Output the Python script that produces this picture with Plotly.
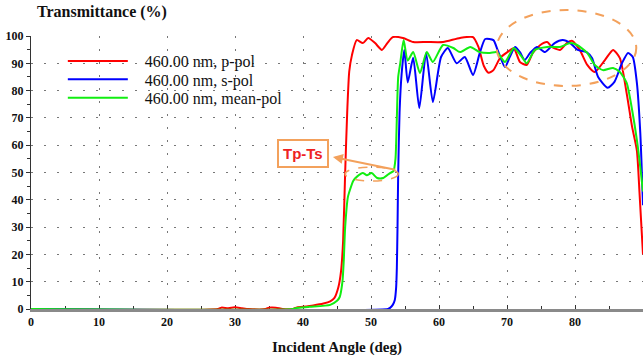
import plotly.graph_objects as go

# ---- data ----
p_angle = [0, 27.5, 28, 29, 30, 31, 32, 34.5, 35, 36, 37, 38.5, 39, 40, 41.5, 43, 44, 44.6, 45.2, 45.6,
           45.9, 46.2, 46.5, 46.8, 47.2, 47.9, 48.8, 49.6, 50.6, 51.6, 52.4, 53.2, 54.7, 56.2, 58.2, 60.6,
           63.1, 65, 65.8, 66.6, 67.3, 68, 69, 70, 71, 71.9, 72.9, 73.8, 74.9, 75.9, 76.6, 77.8, 78.8,
           79.6, 80.7, 81.8, 82.9, 84.4, 85.6, 86.6, 87.6, 88.4, 89.1, 89.5, 90]
p_pol = [0, 0, 0.5, 0.3, 0.6, 0.3, 0, 0, 0.5, 0.5, 0, 0, 0.5, 0.8, 1.3, 2, 2.8, 4, 8, 14,
         25, 50, 72, 87, 93, 98.5, 97.4, 99.3, 97.4, 94.9, 97.4, 99.6, 99.3, 97.8, 97.8, 97.8,
         99.3, 99.6, 96, 89, 86.5, 87.5, 92, 94, 95.5, 90.5, 89.4, 93.8, 96.7, 97.8, 96, 94.9, 97.4,
         98.2, 94.9, 89.4, 86.8, 91.2, 94.9, 91.9, 79, 66.7, 58, 42, 20]

s_angle = [0, 52.5, 52.8, 53.2, 53.5, 53.7, 53.8, 53.9, 54.0, 54.2, 54.5, 54.9, 55.4, 56.2, 57.1, 58.1,
           59.1, 60.3, 61.3, 62.6, 63.8, 65, 66, 66.8, 68, 68.6, 69.7, 70.4, 71.2, 71.9, 72.6, 73.4,
           74.4, 75.6, 77, 78.2, 79.3, 80.4, 81.7, 82.5, 83.4, 84.8, 85.8, 86.9, 87.8, 88.5, 89.1,
           89.6, 90]
s_pol = [0, 0, 0.4, 1.5, 3.3, 8, 15, 30, 50, 72, 86, 95, 83, 92, 73.6, 93.8,
         75.8, 92.3, 95.6, 90, 92.3, 85.7, 93.8, 98.9, 98.5, 95, 88.6, 92.3, 96, 94.1, 91.2, 93.8,
         96, 94.1, 97.4, 98.5, 97.4, 94.9, 94.1, 91.9, 85, 81, 83.2, 90, 93.8, 92.3, 82.8,
         64.5, 38]

m_angle = [0, 38.5, 39, 41, 44, 45, 45.4, 45.8, 46.0, 46.2, 46.6, 46.9, 47.4, 47.9, 48.8, 49.4, 50.1,
           50.9, 51.8, 52.8, 53.3, 53.6, 53.8, 54.0, 54.3, 54.8, 55.4, 56.2, 57.2, 58.2, 59.1, 60.6,
           62.1, 63.1, 64.6, 66, 67.5, 68.5, 69.7, 71, 72.2, 72.9, 74.1, 75.9, 77.8, 79.3, 80.3,
           81.8, 82.9, 84.1, 85.6, 86.6, 87.6, 88.4, 89.1, 89.6, 90]
mean_pol = [0, 0, 0.4, 0.8, 1.5, 3, 4.4, 10, 18, 30, 41, 43.6, 47, 48.4, 49.8, 49, 49.8,
            48, 48, 49.8, 50.5, 55, 70, 85, 90, 98.5, 91, 94.1, 86.4, 94.1, 90.5, 96.7,
            95.6, 94.1, 96, 94.1, 93.8, 94.1, 90.5, 95.6, 92.3, 90, 94.9, 96, 96, 97.4, 96.7,
            93.8, 89.4, 87.5, 88.3, 86.8, 82.8, 72.9, 61.9, 52, 43]

series_names = ["460.00 nm, p-pol", "460.00 nm, s-pol", "460.00 nm, mean-pol"]
x_ticks = [0, 10, 20, 30, 40, 50, 60, 70, 80, 90]
y_ticks = [0, 10, 20, 30, 40, 50, 60, 70, 80, 90, 100]

SERIF = "Liberation Serif, Times New Roman, serif"
ORANGE = "#f3a15c"

fig = go.Figure()
legend_ids = ["legend", "legend2", "legend3"]
legend_rows = [0.908, 0.841, 0.773]
for xs, ys, name, col, lg in [(p_angle, p_pol, series_names[0], "#ff0000", legend_ids[0]),
                              (s_angle, s_pol, series_names[1], "#0000ff", legend_ids[1]),
                              (m_angle, mean_pol, series_names[2], "#11ee11", legend_ids[2])]:
    fig.add_trace(go.Scatter(x=xs, y=ys, name="&nbsp;&nbsp;&nbsp;" + name, mode="lines", legend=lg,
                             line=dict(color=col, width=2, shape="spline", smoothing=0.6)))

legend_style = dict(x=0.052, xanchor="left", yanchor="middle",
                    bgcolor="rgba(0,0,0,0)", borderwidth=0,
                    font=dict(family=SERIF, size=16, color="#111"), itemwidth=60)

fig.update_layout(
    width=644, height=358,
    margin=dict(l=31, r=1, t=36, b=49, autoexpand=False),
    plot_bgcolor="white", paper_bgcolor="white",
    showlegend=True,
    legend=dict(y=legend_rows[0], **legend_style),
    legend2=dict(y=legend_rows[1], **legend_style),
    legend3=dict(y=legend_rows[2], **legend_style),
    xaxis=dict(range=[0, 90], tickvals=x_ticks, ticktext=[f"<b>{v}</b>" for v in x_ticks],
               automargin=False,
               showgrid=True, gridcolor="#777", griddash="2px,11px", gridwidth=1,
               showline=True, linecolor="#8a8a8a", linewidth=3, layer="below traces",
               ticks="inside", ticklen=4, tickcolor="#333",
               minor=dict(dtick=5, ticks="inside", ticklen=3, tickcolor="#333", showgrid=False),
               tickfont=dict(family=SERIF, size=12, color="#111"),
               title=dict(text="<b>Incident Angle (deg)</b>", font=dict(family=SERIF, size=15, color="#111"),
                          standoff=14),
               zeroline=False),
    yaxis=dict(range=[0, 100], tickvals=y_ticks, ticktext=[f"<b>{v}</b>" for v in y_ticks],
               automargin=False,
               showgrid=True, gridcolor="#777", griddash="2px,11px", gridwidth=1,
               showline=True, linecolor="#333", linewidth=1,
               ticks="outside", ticklen=4, tickcolor="#333",
               minor=dict(dtick=5, ticks="outside", ticklen=3, tickcolor="#333", showgrid=False),
               tickfont=dict(family=SERIF, size=12, color="#111"),
               zeroline=False),
)

# chart title at top-left
fig.add_annotation(xref="paper", yref="paper", x=0.0065, y=1.0, yshift=24, xanchor="left", yanchor="middle",
                   text="<b>Transmittance (%)</b>", showarrow=False,
                   font=dict(family=SERIF, size=16, color="#111"))

# dashed ellipses
fig.add_shape(type="circle", xref="x domain", yref="y domain",
              x0=0.761, x1=0.989, y0=0.817, y1=1.095,
              line=dict(color=ORANGE, width=2, dash="dash"))
fig.add_shape(type="circle", xref="x", yref="y", x0=46.2, x1=54.0, y0=46.9, y1=52.0,
              line=dict(color=ORANGE, width=1.5, dash="dash"))

# Tp-Ts label and arrow
fig.add_annotation(x=40, y=56.8, xref="x", yref="y", text="<b>Tp-Ts</b>", showarrow=False,
                   font=dict(family="Liberation Sans, Arial, sans-serif", size=15, color="#ee2222"),
                   bgcolor="white", bordercolor=ORANGE, borderwidth=2, borderpad=4)
fig.add_annotation(x=44.4, y=55.7, ax=53.8, ay=50.9, xref="x", yref="y", axref="x", ayref="y",
                   text="", showarrow=True, arrowhead=2, arrowsize=1, arrowwidth=2, arrowcolor=ORANGE)

fig.write_html("out.html", config={"displayModeBar": False},
               post_script="document.body.style.margin='0px';")
